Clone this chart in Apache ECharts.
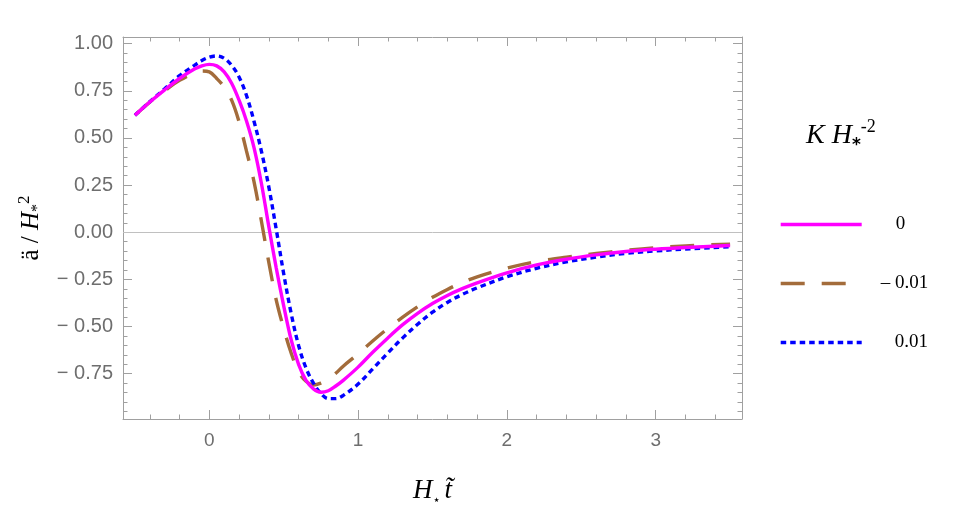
<!DOCTYPE html>
<html>
<head>
<meta charset="utf-8">
<script src="https://cdn.jsdelivr.net/npm/echarts@6/dist/echarts.min.js"></script>
<style>
html,body{margin:0;padding:0;background:#fff;}
#c{width:953px;height:517px;}
</style>
</head>
<body>
<div id="c"></div>
<script>
// ---- data ----
const xs = [-0.5,-0.4,-0.3,-0.2,-0.1,-0.05,0,0.05,0.1,0.15,0.2,0.25,0.3,0.35,0.4,0.45,0.5,0.55,0.6,0.65,0.7,0.75,0.8,0.85,0.9,1.0,1.1,1.2,1.3,1.4,1.5,1.6,1.7,1.8,2.0,2.2,2.4,2.6,2.8,3.0,3.2,3.5];
const yK0 = [0.62,0.69,0.755,0.815,0.865,0.882,0.89,0.882,0.85,0.79,0.70,0.59,0.45,0.26,0.03,-0.19,-0.39,-0.57,-0.70,-0.785,-0.83,-0.848,-0.84,-0.815,-0.785,-0.715,-0.635,-0.56,-0.49,-0.43,-0.378,-0.335,-0.299,-0.268,-0.215,-0.173,-0.143,-0.12,-0.102,-0.09,-0.081,-0.07];
const yKm = [0.62,0.69,0.75,0.805,0.845,0.855,0.85,0.815,0.77,0.70,0.585,0.43,0.27,0.06,-0.16,-0.36,-0.51,-0.64,-0.74,-0.79,-0.81,-0.80,-0.78,-0.748,-0.71,-0.645,-0.575,-0.51,-0.45,-0.395,-0.345,-0.303,-0.266,-0.236,-0.19,-0.155,-0.132,-0.113,-0.096,-0.082,-0.072,-0.063];
const yKp = [0.62,0.692,0.76,0.83,0.885,0.91,0.928,0.935,0.922,0.885,0.823,0.725,0.59,0.43,0.24,0.015,-0.22,-0.43,-0.60,-0.72,-0.80,-0.855,-0.882,-0.882,-0.865,-0.805,-0.723,-0.64,-0.56,-0.488,-0.424,-0.372,-0.33,-0.295,-0.236,-0.191,-0.157,-0.132,-0.112,-0.099,-0.089,-0.077];
const seriesNames = ['0', '\u2013 0.01', '0.01'];
const xMajor = [0, 1, 2, 3];
const xMinor = [-0.4,-0.2,0.2,0.4,0.6,0.8,1.2,1.4,1.6,1.8,2.2,2.4,2.6,2.8,3.2,3.4];
const yMajor = [-0.75,-0.5,-0.25,0,0.25,0.5,0.75,1.0];
const yMinor = [-0.95,-0.9,-0.85,-0.8,-0.7,-0.65,-0.6,-0.55,-0.45,-0.4,-0.35,-0.3,-0.2,-0.15,-0.1,-0.05,0.05,0.1,0.15,0.2,0.3,0.35,0.4,0.45,0.55,0.6,0.65,0.7,0.8,0.85,0.9,0.95];
const xRange = [-0.58, 3.58];
const yRange = [-0.99, 1.035];

const pair = ys => xs.map((x, i) => [x, ys[i]]);
const frameColor = '#a0a0a0';
const labelColor = '#6e6e6e';

function xAx(pos, major, showLine) {
  return {
    type: 'value', position: pos, min: xRange[0], max: xRange[1],
    axisLine: {show: showLine, onZero: false, lineStyle: {color: frameColor, width: 1}},
    axisTick: {show: true, inside: true, length: major ? 9 : 4.5, customValues: major ? xMajor : xMinor,
      lineStyle: {color: frameColor, width: 1}},
    axisLabel: {show: pos === 'bottom' && major, customValues: xMajor, color: labelColor,
      fontFamily: 'Liberation Sans', fontSize: 19, margin: 12},
    splitLine: {show: false}
  };
}
function yAx(pos, major, showLine) {
  return {
    type: 'value', position: pos, min: yRange[0], max: yRange[1],
    axisLine: {show: showLine, onZero: false, lineStyle: {color: frameColor, width: 1}},
    axisTick: {show: true, inside: true, length: major ? 9 : 4.5, customValues: major ? yMajor : yMinor,
      lineStyle: {color: frameColor, width: 1}},
    axisLabel: {show: pos === 'left' && major, customValues: yMajor, color: labelColor,
      fontFamily: 'Liberation Sans', fontSize: 20, margin: 10,
      formatter: v => (v < 0 ? '\u2212 ' + Math.abs(v).toFixed(2) : v.toFixed(2))},
    splitLine: {show: false}
  };
}

const xAxes = [xAx('bottom', true, true), xAx('bottom', false, false), xAx('top', true, true), xAx('top', false, false)];
const yAxes = [yAx('left', true, true), yAx('left', false, false), yAx('right', true, true), yAx('right', false, false)];

xAxes[0].name = '{h|H}{s|\u22C6}{t|t\u0303}';
xAxes[0].nameLocation = 'middle';
xAxes[0].nameGap = 56;
xAxes[0].nameTextStyle = {
  rich: {
    h: {fontFamily: 'Liberation Serif', fontStyle: 'italic', fontSize: 27, color: '#000', lineHeight: 32},
    s: {fontFamily: 'DejaVu Sans', fontSize: 13, color: '#000', verticalAlign: 'bottom', lineHeight: 14, padding: [0, 4, 0, 0]},
    t: {fontFamily: 'Liberation Serif', fontStyle: 'italic', fontSize: 27, color: '#000', lineHeight: 32}
  }
};
yAxes[0].name = '{a|\u00E4 / }{h|H}{s|*}{p|2}';
yAxes[0].nameLocation = 'middle';
yAxes[0].nameRotate = 90;
yAxes[0].nameGap = 71;
yAxes[0].nameTextStyle = {
  rich: {
    a: {fontFamily: 'Liberation Serif', fontSize: 25, color: '#000', lineHeight: 30},
    h: {fontFamily: 'Liberation Serif', fontStyle: 'italic', fontSize: 25, color: '#000', lineHeight: 30},
    s: {fontFamily: 'Liberation Serif', fontSize: 16, color: '#000', verticalAlign: 'bottom', lineHeight: 12},
    p: {fontFamily: 'Liberation Serif', fontSize: 17, color: '#000', verticalAlign: 'top', lineHeight: 12}
  }
};

function mkSeries(name, ys, color, type) {
  return {
    name: name, type: 'line', xAxisIndex: 0, yAxisIndex: 0,
    data: pair(ys), smooth: 0.35, symbol: 'none',
    lineStyle: {color: color, width: 3.4, type: type, cap: 'butt'},
    itemStyle: {color: color}, z: 3
  };
}
const s0 = mkSeries(seriesNames[0], yK0, '#ff00ff', 'solid');
s0.markLine = {silent: true, symbol: 'none', label: {show: false},
  lineStyle: {color: '#c0c0c0', width: 1, type: 'solid'}, data: [{yAxis: 0}], z: 1};
const series = [
  mkSeries(seriesNames[1], yKm, '#a36c3b', [24, 17]),
  mkSeries(seriesNames[2], yKp, '#0000ff', [5.5, 4]),
  s0
];

function leg(name, top, pad) {
  return {
    data: [name], left: 779, top: top, padding: 0, orient: 'horizontal', itemWidth: 81, itemHeight: 14,
    selectedMode: false,
    itemStyle: {opacity: 0},
    lineStyle: {width: 3.4},
    textStyle: {fontFamily: 'Liberation Serif', fontSize: 19, color: '#000', padding: [2, 0, 0, pad]}
  };
}

const option = {
  animation: false,
  backgroundColor: '#fff',
  grid: {left: 123, right: 211, top: 37, bottom: 98, containLabel: false},
  xAxis: xAxes,
  yAxis: yAxes,
  title: {
    text: '{k|K}{g| }{h|H}{s|*}{p|-2}',
    left: 806, top: 118, padding: 0,
    textStyle: {
      fontWeight: 'normal',
      rich: {
        k: {fontFamily: 'Liberation Serif', fontStyle: 'italic', fontWeight: 'normal', fontSize: 28, color: '#000', lineHeight: 36},
        g: {fontFamily: 'Liberation Serif', fontWeight: 'normal', fontSize: 28, color: '#000', lineHeight: 36},
        h: {fontFamily: 'Liberation Serif', fontStyle: 'italic', fontWeight: 'normal', fontSize: 28, color: '#000', lineHeight: 36},
        s: {fontFamily: 'DejaVu Sans', fontWeight: 'bold', fontSize: 17, color: '#000', verticalAlign: 'bottom', lineHeight: 14},
        p: {fontFamily: 'Liberation Serif', fontWeight: 'normal', fontSize: 18, color: '#000', verticalAlign: 'top', lineHeight: 14}
      }
    }
  },
  legend: [leg(seriesNames[0], 215, 29), leg(seriesNames[1], 274, 14), leg(seriesNames[2], 333, 28)],
  series: series
};

const chart = echarts.init(document.getElementById('c'), null, {renderer: 'canvas'});
chart.setOption(option);
</script>
</body>
</html>
